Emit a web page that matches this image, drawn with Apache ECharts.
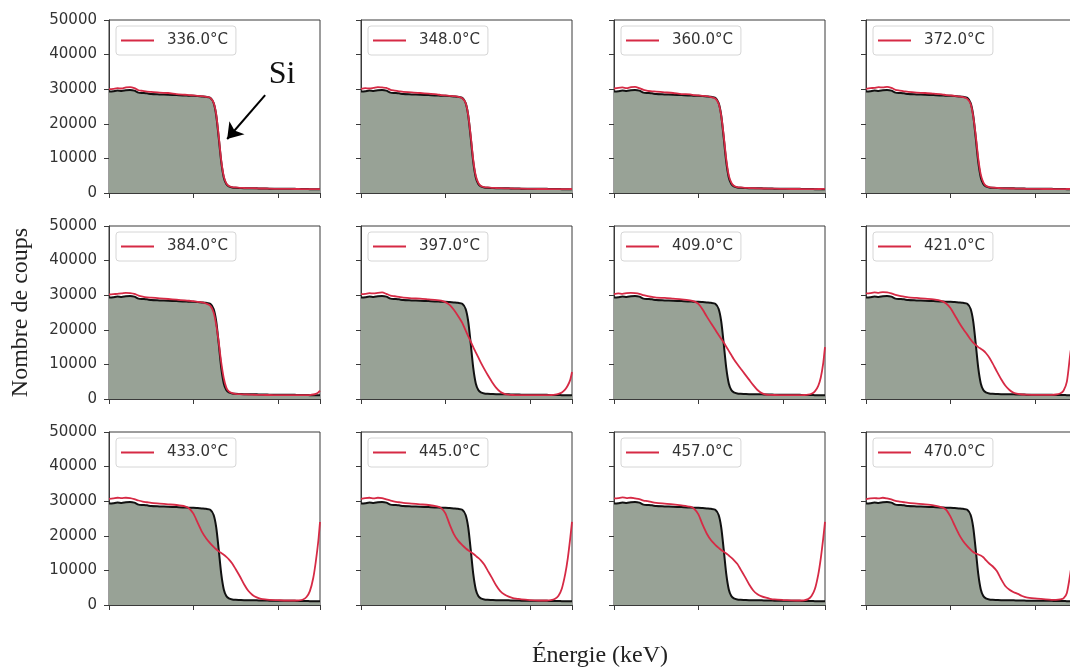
<!DOCTYPE html>
<html><head><meta charset="utf-8">
<script src="https://cdn.jsdelivr.net/npm/echarts@6/dist/echarts.min.js"></script>
<style>html,body{margin:0;padding:0;background:#fff}#c{width:1070px;height:668px}</style>
</head><body><div id="c"></div>
<script>
// Energy axis (keV), shared by every spectrum
const energies = [0,50,100,150,200,250,300,350,400,450,
  500,600,700,800,900,
  950,1000,1050,1100,1150,1200,
  1240,1270,1300,1330,1360,1390,1420,1460,
  1500,1550,1600,1650,1700,1750,1800,1850,1900,
  2000,2100,2200,
  2250,2300,2340,2380,2420,2450,2480,2500];

// Reference spectrum (black line, grey filled area)
const reference = [29300,29400,29600,29500,29700,29800,29600,29000,28900,28800,
  28600,28500,28400,28300,28200,
  28100,28100,28000,27900,27800,27500,
  26000,22500,16000,9000,4500,2600,1900,1600,
  1500,1450,1400,1400,1350,1350,1300,1300,1250,
  1250,1200,1200,
  1150,1150,1150,1100,1100,1100,1100,1100];

const temperatures = ['336.0°C','348.0°C','360.0°C','372.0°C','384.0°C','397.0°C','409.0°C','421.0°C','433.0°C','445.0°C','457.0°C','470.0°C'];

const red336 = [30000,30100,30300,30200,30500,30600,30300,29700,29500,29300,
  29200,29000,28900,28600,28400,
  28300,28200,28100,28000,27800,27500,
  26100,22800,16500,9400,4800,2800,2000,1700,
  1600,1500,1450,1400,1400,1350,1300,1300,1250,
  1200,1200,1150,
  1150,1100,1100,1100,1100,1100,1100,1100];
const red348 = [30100,30300,30200,30400,30600,30500,30400,29800,29600,29400,
  29200,29100,28900,28700,28500,
  28300,28200,28100,28000,27800,27400,
  26000,22600,16600,9600,5000,2900,2000,1700,
  1600,1500,1450,1400,1350,1350,1300,1250,1250,
  1200,1150,1150,
  1100,1100,1100,1100,1100,1100,1150,1150];
const red360 = [30200,30400,30500,30300,30600,30700,30300,29800,29500,29400,
  29300,29100,28900,28600,28500,
  28300,28200,28100,28000,27700,27300,
  25800,22400,16600,9800,5100,3000,2100,1700,
  1600,1500,1450,1400,1350,1300,1300,1250,1250,
  1200,1150,1150,
  1100,1100,1100,1100,1150,1150,1200,1200];
const red372 = [30100,30300,30400,30600,30500,30700,30400,29800,29600,29400,
  29200,29000,28900,28700,28500,
  28300,28200,28100,27900,27700,27200,
  25700,22200,16700,10000,5300,3100,2100,1700,
  1550,1500,1400,1350,1300,1300,1250,1250,1200,
  1200,1150,1150,
  1100,1100,1100,1150,1150,1200,1300,1400];
const red384 = [30200,30300,30400,30500,30700,30600,30400,29900,29600,29400,
  29300,29100,28900,28700,28500,
  28400,28300,28100,27900,27600,27000,
  25000,21500,16500,10500,6000,3300,2200,1700,
  1500,1400,1350,1300,1250,1200,1200,1150,1150,
  1100,1100,1100,
  1100,1100,1100,1150,1300,1500,1900,2400];
const red397 = [30300,30400,30600,30500,30700,30800,30400,29900,29700,29500,
  29300,29100,29000,28800,28600,
  28400,28000,27200,25800,24000,22000,
  19800,18200,16600,15000,13500,12000,10500,8700,
  7000,5000,3300,2100,1500,1250,1150,1100,1100,
  1100,1100,1100,
  1150,1250,1500,1900,2800,3900,5600,7800];
const red409 = [30300,30500,30400,30600,30700,30600,30400,30000,29700,29500,
  29300,29200,29000,28800,28500,
  28200,27500,25900,23800,21900,20000,
  18500,17400,16300,15100,13900,12700,11500,10100,
  8800,7200,5600,4000,2600,1700,1300,1200,1150,
  1100,1100,1100,
  1150,1250,1500,2200,3800,6200,10500,15000];
const red421 = [30500,30600,30800,30700,30900,30800,30500,30100,29800,29600,
  29400,29200,29000,28800,28300,
  27600,26300,24300,22200,20300,18600,
  17200,16300,15600,15000,14500,14000,13300,12000,
  10300,8000,5800,3900,2600,1800,1450,1300,1250,
  1200,1200,1200,
  1300,1600,2400,5000,13000,17500,21500,24000];
const red433 = [30700,30800,31000,30900,31000,30900,30600,30200,29900,29700,
  29500,29300,29100,28900,28500,
  27900,26400,23800,21200,19300,17800,
  16800,16100,15500,15000,14500,13900,13200,12000,
  10400,8300,6000,4100,2900,2200,1800,1600,1500,
  1400,1300,1300,
  1350,1600,2300,4000,7800,12500,18500,24000];
const red445 = [30700,30900,31000,30800,31000,30900,30500,30200,29900,29700,
  29500,29300,29100,28900,28500,
  28000,26500,23300,20500,18600,17300,
  16400,15800,15300,14800,14200,13600,12900,11700,
  10000,7900,5700,4000,3000,2400,2000,1800,1600,
  1400,1300,1300,
  1400,1800,2700,4800,9000,13500,19500,24000];
const red457 = [30800,30900,31100,30900,31000,30800,30600,30200,30000,29700,
  29500,29300,29100,28800,28400,
  27800,26200,23200,20600,18700,17400,
  16500,15900,15400,14900,14300,13700,13000,11900,
  10300,8200,6000,4200,3100,2500,2100,1800,1600,
  1450,1350,1300,
  1350,1700,2600,4600,8800,13500,19500,24000];
const red470 = [30600,30800,30900,30800,31000,30800,30500,30100,29900,29700,
  29500,29300,29100,28800,28200,
  27500,25600,23000,20500,18500,17000,
  16000,15300,14900,14600,14300,13800,13000,12000,
  11200,9800,7500,5500,4400,3700,3200,2600,2200,
  1900,1700,1500,
  1500,1600,1900,3500,9000,14000,19500,24000];

const heatedSpectra = [red336,red348,red360,red372,red384,red397,red409,red421,red433,red445,red457,red470];

// Axis settings
const xMin = 0, xMax = 2500, xStep = 1000;
const yMin = 0, yMax = 50000, yStep = 10000;

// "Si" annotation (data coordinates in the first panel)
const siLabelAt = [2050, 34300];
const siArrowFrom = [1850, 28300];
const siArrowTo = [1400, 15600];

// ---------- layout / style ----------
const colLeft = [109, 361, 614, 866];
const rowTop = [20, 226, 432];
const W = 211, H = 173;
const RED = '#d62a45', BLACK = '#111111', FILL = '#98a296';
const TICK = '#333333';

const grids = [], xAxes = [], yAxes = [], series = [], legends = [];
for (let i = 0; i < 12; i++) {
  const r = Math.floor(i / 4), c = i % 4;
  grids.push({left: colLeft[c], top: rowTop[r], width: W, height: H,
    outerBoundsMode: 'none', containLabel: false,
    show: true, borderColor: '#3a3a3a', borderWidth: 1, backgroundColor: 'transparent'});
  xAxes.push({type: 'value', gridIndex: i, min: xMin, max: xMax, interval: xStep,
    axisLine: {show: true, lineStyle: {color: '#3a3a3a', width: 1}},
    axisTick: {show: true, inside: false, length: 5, lineStyle: {color: '#3a3a3a'}},
    axisLabel: {show: false}, splitLine: {show: false}});
  const ya = {type: 'value', gridIndex: i, min: yMin, max: yMax, interval: yStep,
    axisLine: {show: true, lineStyle: {color: '#3a3a3a', width: 1}},
    axisTick: {show: true, inside: false, length: 5, lineStyle: {color: '#3a3a3a'}},
    axisLabel: {show: c === 0, margin: 12, fontSize: 15, color: TICK, fontFamily: 'DejaVu Sans',
      formatter: v => String(v)},
    splitLine: {show: false}};
  if (i === 4) {
    ya.name = 'Nombre de coups';
    ya.nameLocation = 'middle';
    ya.nameGap = 76;
    ya.nameRotate = 90;
    ya.nameTextStyle = {fontFamily: 'Liberation Serif', fontSize: 24, color: '#222'};
  }
  yAxes.push(ya);

  series.push({type: 'line', name: 'ref' + i, xAxisIndex: i, yAxisIndex: i,
    data: energies.map((e, k) => [e, reference[k]]),
    showSymbol: false, smooth: 0.25, silent: true, z: 2,
    lineStyle: {color: BLACK, width: 2}, itemStyle: {color: BLACK},
    areaStyle: {color: FILL, opacity: 1}});

  const s = {type: 'line', name: temperatures[i], xAxisIndex: i, yAxisIndex: i,
    data: energies.map((e, k) => [e, heatedSpectra[i][k]]),
    showSymbol: false, smooth: 0.25, silent: true, z: 3,
    lineStyle: {color: RED, width: 1.8}, itemStyle: {color: RED}};
  if (i === 0) {
    s.markLine = {silent: true, symbol: ['none', 'arrow'], symbolSize: 15,
      lineStyle: {color: '#000', width: 2, type: 'solid'}, itemStyle: {color: '#000'},
      label: {show: false}, emphasis: {disabled: true},
      data: [[{coord: siArrowFrom}, {coord: siArrowTo}]]};
    s.markPoint = {silent: true, symbol: 'circle', symbolSize: 0,
      label: {show: true, formatter: 'Si', fontFamily: 'Liberation Serif', fontSize: 32, color: '#111', position: 'inside'},
      data: [{coord: siLabelAt}]};
  }
  series.push(s);

  legends.push({data: [temperatures[i]], left: colLeft[c] + 7, top: rowTop[r] + 6,
    icon: 'rect', itemWidth: 33, itemHeight: 2, selectedMode: false,
    padding: [7, 8, 7, 5], borderColor: '#d6d6d6', borderWidth: 1, borderRadius: 3,
    backgroundColor: '#ffffff',
    textStyle: {fontSize: 15, color: '#333', fontFamily: 'DejaVu Sans', padding: [0, 0, 0, 8]}});
}

const chart = echarts.init(document.getElementById('c'));
chart.setOption({
  animation: false,
  backgroundColor: '#ffffff',
  grid: grids, xAxis: xAxes, yAxis: yAxes, series: series, legend: legends,
  graphic: [{type: 'text', x: 600, y: 656,
    style: {text: 'Énergie (keV)', fontFamily: 'Liberation Serif', fontSize: 24, fill: '#222',
      textAlign: 'center', textVerticalAlign: 'middle'}}]
});
</script></body></html>
